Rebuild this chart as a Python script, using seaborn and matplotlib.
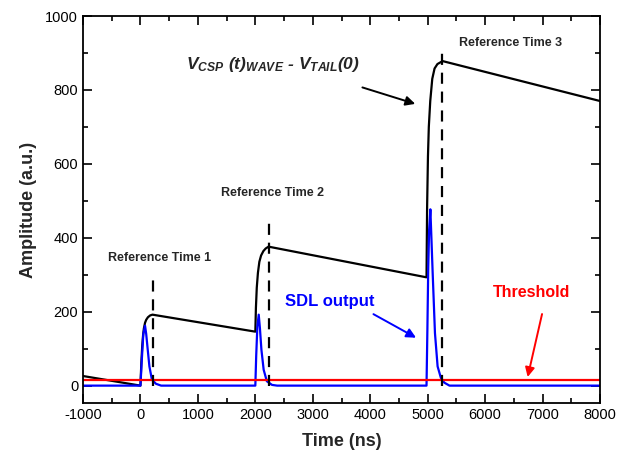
import matplotlib
matplotlib.use("Agg")
import matplotlib.pyplot as plt
import seaborn as sns
import pandas as pd
from matplotlib.ticker import MultipleLocator

# ---- data ----
csp_t = [-1000, 0, 15, 30, 45, 60, 80, 100, 130, 170, 210,
         2000, 2010, 2025, 2045, 2070, 2100, 2140, 2180, 2230,
         4980, 4990, 5005, 5020, 5045, 5080, 5120, 5170, 5260, 8000]
csp_v = [26, 0, 60, 105, 135, 155, 170, 178, 185, 190, 192,
         146, 210, 265, 305, 335, 352, 364, 371, 376,
         293, 480, 620, 700, 770, 830, 858, 870, 878, 770]

sdl_t = [-1000, 0, 20, 50, 80, 100, 127, 156, 200, 270, 360,
         2000, 2015, 2035, 2059, 2080, 2106, 2145, 2200, 2290, 2380,
         4980, 4995, 5010, 5025, 5047, 5065, 5087, 5127, 5173, 5230, 5290, 5380, 8000]
sdl_v = [0, 0, 60, 140, 162, 140, 97, 52, 16, 5, 0,
         0, 80, 160, 192, 155, 97, 43, 12, 2, 0,
         0, 150, 320, 420, 477, 400, 305, 142, 52, 21, 8, 0, 0]

thr_t = [-1000, 8000]
thr_v = [14, 14]

ref_times = [210, 2232, 5250]
ref_tops = [300, 450, 917]
ref_labels = ["Reference Time 1", "Reference Time 2", "Reference Time 3"]
ref_label_pos = [(329, 346), (2300, 521), (6450, 927)]

x_ticks = [-1000, 0, 1000, 2000, 3000, 4000, 5000, 6000, 7000, 8000]
y_ticks = [0, 200, 400, 600, 800, 1000]

# ---- style ----
sns.set_style("ticks")
plt.rcParams['font.family'] = ['Liberation Sans', 'DejaVu Sans']
plt.rcParams['axes.unicode_minus'] = False
plt.rcParams['mathtext.fontset'] = 'custom'
plt.rcParams['mathtext.rm'] = 'Liberation Sans:bold:italic'
plt.rcParams['mathtext.it'] = 'Liberation Sans:bold:italic'
plt.rcParams['mathtext.bf'] = 'Liberation Sans:bold:italic'

fig = plt.figure(figsize=(6.17, 4.61), dpi=100)
ax = fig.add_axes([83/617, 1 - 403/461, (600 - 83)/617, (403 - 16)/461])

csp = pd.DataFrame({"t": csp_t, "v": csp_v})
sdl = pd.DataFrame({"t": sdl_t, "v": sdl_v})
thr = pd.DataFrame({"t": thr_t, "v": thr_v})

sns.lineplot(data=csp, x="t", y="v", ax=ax, color="black", lw=1.6,
             estimator=None, sort=False)
sns.lineplot(data=sdl, x="t", y="v", ax=ax, color="#0000ff", lw=1.6,
             estimator=None, sort=False)
sns.lineplot(data=thr, x="t", y="v", ax=ax, color="#ff0000", lw=1.6,
             estimator=None, sort=False)

for rt, top in zip(ref_times, ref_tops):
    ax.plot([rt, rt], [0, top], color="black", lw=1.6, ls=(0, (5, 3.5)))

for lab, (px, py) in zip(ref_labels, ref_label_pos):
    ax.text(px, py, lab, ha="center", va="center", fontsize=9, fontweight="bold")

ax.text(795, 868, r"$V_{CSP}\ (t)_{WAVE}$ - $V_{TAIL}(0)$", ha="left", va="center",
        fontsize=12.5, fontweight="bold", fontstyle="italic")
ax.annotate("", xy=(4830, 760), xytext=(3818, 809),
            arrowprops=dict(arrowstyle="-|>", color="black", lw=1.4, mutation_scale=14))

ax.text(3287, 228, "SDL output", ha="center", va="center", fontsize=12,
        fontweight="bold", color="#0000ff")
ax.annotate("", xy=(4840, 126), xytext=(4014, 197),
            arrowprops=dict(arrowstyle="-|>", color="#0000ff", lw=1.4, mutation_scale=14))

ax.text(6817, 251, "Threshold", ha="center", va="center", fontsize=11.5,
        fontweight="bold", color="#ff0000")
ax.annotate("", xy=(6730, 16), xytext=(7002, 201),
            arrowprops=dict(arrowstyle="-|>", color="#ff0000", lw=1.4, mutation_scale=14))

ax.set_xlim(-1000, 8000)
ax.set_ylim(-47, 1000)
ax.set_xticks(x_ticks)
ax.set_yticks(y_ticks)
ax.xaxis.set_minor_locator(MultipleLocator(500))
ax.yaxis.set_minor_locator(MultipleLocator(100))
ax.tick_params(which="both", direction="in", top=True, right=True, width=1.2,
               labelsize=10.5, colors="black")
ax.tick_params(which="major", length=6.5)
ax.tick_params(which="minor", length=3.5)
for s in ax.spines.values():
    s.set_linewidth(1.3)
    s.set_color("black")

ax.set_xlabel("Time (ns)", fontsize=13, fontweight="bold", labelpad=8)
ax.set_ylabel("Amplitude (a.u.)", fontsize=13, fontweight="bold", labelpad=6)

fig.savefig("out.png", dpi=100)
